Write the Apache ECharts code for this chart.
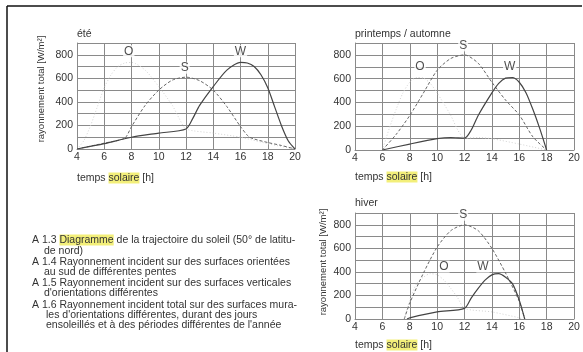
<!DOCTYPE html>
<html>
<head>
<meta charset="utf-8">
<script src="https://cdn.jsdelivr.net/npm/echarts@6/dist/echarts.min.js"></script>
<style>
  html, body { margin: 0; padding: 0; background: #fff; }
  #chart { width: 583px; height: 352px; }
</style>
</head>
<body>
<div id="chart"></div>
<script>
// été
const eteS = [[4,0],[6,50],[7.5,92],[8,190],[9,370],[10,500],[11,585],[12,610],[13,580],[14,500],[15,360],[16,190],[16.6,105],[17,85],[18,55],[19,30],[20,0]]
const eteW = [[4,0],[6,45],[8,100],[10,135],[12,170],[12.5,260],[13,370],[14,530],[15,670],[16,735],[16.5,730],[17,700],[17.5,630],[18,520],[18.5,360],[19,200],[19.5,70],[20,0]]
const eteO = [[4,0],[4.5,70],[5,200],[5.5,360],[6,520],[6.5,630],[7,700],[7.5,730],[8,735],[9,670],[10,530],[11,370],[11.5,260],[12,170],[14,135],[16,100],[18,45],[20,0]]
const eteLabels = [[7.8,830,'O'],[11.9,690,'S'],[16,830,'W']]

// printemps / automne
const prS = [[6,0],[7,130],[8,290],[9,480],[10,670],[11,770],[12,800],[13,730],[14,570],[15,420],[16,295],[17,110],[18,0]]
const prW = [[6,0],[8,50],[10,95],[11,105],[12,100],[12.5,170],[13,290],[14,480],[14.5,560],[15,605],[15.5,610],[16,570],[16.5,480],[17,340],[17.5,180],[18,0]]
const prO = [[6,0],[6.5,180],[7,340],[7.5,480],[8,570],[8.5,610],[9,605],[9.5,560],[10,480],[11,290],[11.5,170],[12,100],[13,105],[14,95],[16,50],[18,0]]
const prLabels = [[8.75,700,'O'],[11.9,880,'S'],[15.3,700,'W']]

// hiver
const hiS = [[7.6,0],[8,135],[9,390],[10,610],[11,750],[12,800],[13,750],[14,600],[15,390],[16,150],[16.4,0]]
const hiW = [[7.8,0],[8,10],[10,60],[12,90],[12.5,180],[13,260],[13.5,330],[14,375],[14.5,385],[15,355],[15.5,300],[16,160],[16.4,0]]
const hiO = [[7.6,0],[8,160],[8.5,300],[9,355],[9.5,385],[10,375],[10.5,330],[11,260],[11.5,180],[12,90],[14,60],[16,10],[16.2,0]]
const hiLabels = [[10.5,445,'O'],[11.9,885,'S'],[13.35,445,'W']]

const caption = [
  'A 1.3 {hl|Diagramme} de la trajectoire du soleil (50° de latitu-',
  'de nord)',
  'A 1.4 Rayonnement incident sur des surfaces orientées',
  'au sud de différentes pentes',
  'A 1.5 Rayonnement incident sur des surfaces verticales',
  'd\'orientations différentes',
  'A 1.6 Rayonnement incident total sur des surfaces mura-',
  'les d\'orientations différentes, durant des jours',
  'ensoleillés et à des périodes différentes de l\'année'
]
const captionX = [32, 44, 32, 44, 32, 44, 32, 46, 46]
const captionY = [240, 251, 262, 272, 283, 293, 305, 315, 325]

const FONT = 'Liberation Sans'
const gridColor = '#8a8a8a'

const grids = [
  { left: 77, top: 43, width: 218, height: 106 },
  { left: 355, top: 43, width: 219, height: 107 },
  { left: 355, top: 213, width: 219, height: 106 }
]

function xAxis(i) {
  return {
    type: 'value', gridIndex: i, min: 4, max: 20, interval: 2,
    axisLine: { lineStyle: { color: gridColor } },
    axisTick: { show: false },
    splitLine: { lineStyle: { color: gridColor } },
    axisLabel: { color: '#333', fontFamily: FONT, fontSize: 10.5, margin: 3 }
  }
}
function yAxis(i) {
  return {
    type: 'value', gridIndex: i, min: 0, max: 900, interval: 100,
    axisLine: { lineStyle: { color: gridColor } },
    axisTick: { show: false },
    splitLine: { lineStyle: { color: gridColor } },
    axisLabel: {
      color: '#333', fontFamily: FONT, fontSize: 10.5, margin: 4,
      formatter: v => (v % 200 === 0 && v < 900) ? v : ''
    }
  }
}

function curves(i, s, w, o, labels) {
  return [
    { type: 'line', xAxisIndex: i, yAxisIndex: i, data: o, showSymbol: false, smooth: 0.25,
      lineStyle: { color: '#d2d2d2', width: 1, type: [1, 2] } },
    { type: 'line', xAxisIndex: i, yAxisIndex: i, data: s, showSymbol: false, smooth: 0.25,
      lineStyle: { color: '#666', width: 1, type: [3, 2] } },
    { type: 'line', xAxisIndex: i, yAxisIndex: i, data: w, showSymbol: false, smooth: 0.25,
      lineStyle: { color: '#444', width: 1.2 } },
    { type: 'scatter', xAxisIndex: i, yAxisIndex: i, data: labels, symbolSize: 0,
      label: { show: true, position: 'inside', formatter: p => p.value[2], color: '#222', fontFamily: FONT, fontSize: 12,
        backgroundColor: '#fff', padding: [0, 1] } }
  ]
}

function txt(x, y, text, size) {
  return {
    type: 'text', x: x, y: y,
    style: {
      text: text, fill: '#333', font: (size || 10.5) + 'px "' + FONT + '"', verticalAlign: 'middle',
      rich: { hl: { backgroundColor: '#f3ef7a', fontFamily: FONT, fontSize: size || 10.5, color: '#333' } }
    }
  }
}
function yName(x, y) {
  return {
    type: 'text', x: x, y: y, rotation: Math.PI / 2,
    style: { text: 'rayonnement total [W/m²]', fill: '#333', font: '9.5px "' + FONT + '"', align: 'center', verticalAlign: 'middle' }
  }
}

const graphic = [
  { type: 'line', shape: { x1: 7, y1: 6, x2: 582, y2: 6 }, style: { stroke: '#111', lineWidth: 1.5 } },
  { type: 'line', shape: { x1: 7, y1: 6, x2: 7, y2: 352 }, style: { stroke: '#111', lineWidth: 1.5 } },
  txt(77, 34, 'été'),
  txt(355, 34, 'printemps / automne'),
  txt(355, 203, 'hiver'),
  txt(77, 178, 'temps {hl|solaire} [h]'),
  txt(355, 177, 'temps {hl|solaire} [h]'),
  txt(355, 345, 'temps {hl|solaire} [h]'),
  yName(41, 89),
  yName(323, 262)
]
caption.forEach((line, k) => {
  graphic.push(txt(captionX[k], captionY[k], line, 10.5))
})

const chart = echarts.init(document.getElementById('chart'))
chart.setOption({
  animation: false,
  grid: grids,
  xAxis: [xAxis(0), xAxis(1), xAxis(2)],
  yAxis: [yAxis(0), yAxis(1), yAxis(2)],
  series: [
    ...curves(0, eteS, eteW, eteO, eteLabels),
    ...curves(1, prS, prW, prO, prLabels),
    ...curves(2, hiS, hiW, hiO, hiLabels)
  ],
  graphic: graphic
})
</script>
</body>
</html>
